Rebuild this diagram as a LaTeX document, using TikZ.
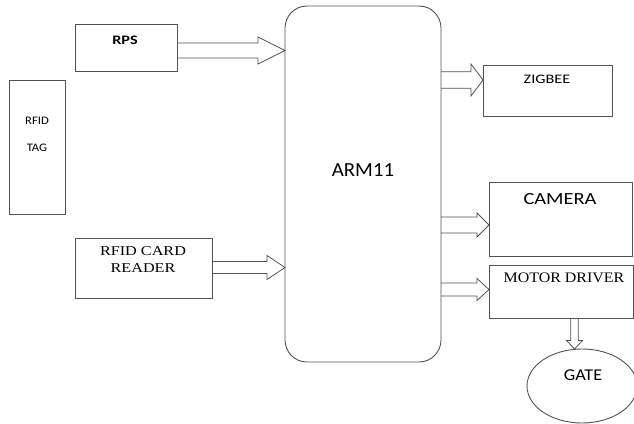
\documentclass[tikz,border=0pt]{standalone}
\usepackage{fontspec}
\usepackage{graphicx}
\setmainfont{Liberation Serif}
\newfontfamily\calfont{Carlito}
\usetikzlibrary{calc,shapes.geometric}
\newcommand\sw[3]{{\fontsize{#1}{#1}\selectfont\scalebox{#2}[1]{#3}}}
\newcommand\harrow[5]{%
  \draw[fat] let \p1=(#1), \p2=(#2) in
    (\x1,\y1+#3) -- (\x2-#5,\y1+#3) -- (\x2-#5,\y1+#4) -- (\x2,\y1)
    -- (\x2-#5,\y1-#4) -- (\x2-#5,\y1-#3) -- (\x1,\y1-#3);}
\newcommand\varrow[5]{%
  \draw[fat] let \p1=(#1), \p2=(#2) in
    (\x1-#3,\y1) -- (\x1-#3,\y2+#5) -- (\x1-#4,\y2+#5) -- (\x1,\y2)
    -- (\x1+#4,\y2+#5) -- (\x1+#3,\y2+#5) -- (\x1+#3,\y1);}
\begin{document}
\begin{tikzpicture}[x=1pt,y=-1pt,
  box/.style={draw=black!68, line width=0.9pt, inner sep=0pt, outer sep=0pt},
  fat/.style={draw=black!68, line width=0.8pt, line join=miter},
  txt/.style={inner sep=0pt, text=black}]
\useasboundingbox (0,0) rectangle (634,423);
% ARM11
\node[box, rounded corners=22pt, minimum width=156pt, minimum height=356pt] (arm) at (363,184) {};
\node[txt] (armt) at (363,170) {\calfont\sw{20}{1.04}{ARM11}};
% RPS
\node[box, minimum width=102pt, minimum height=47pt] (rps) at (126,47.5) {};
\node[txt] (rpst) at (125,40) {\calfont\bfseries\sw{13}{1.25}{RPS}};
% RFID TAG
\node[box, minimum width=56pt, minimum height=134pt] (tag) at (37,147) {};
\node[txt] (tag1) at (37,120.5) {\calfont\sw{11.5}{1.1}{RFID}};
\node[txt] (tag2) at (37,148) {\calfont\sw{11.5}{1.1}{TAG}};
% RFID CARD READER
\node[box, minimum width=137pt, minimum height=60pt] (reader) at (143.5,268) {};
\node[txt] (rd1) at (143,251.5) {\sw{13.5}{1.2}{RFID CARD}};
\node[txt] (rd2) at (143,268.5) {\sw{13.5}{1.2}{READER}};
% ZIGBEE
\node[box, minimum width=129pt, minimum height=51pt] (zig) at (547.5,90.5) {};
\node[txt] (zigt) at (547,79) {\calfont\sw{13}{1.25}{ZIGBEE}};
% CAMERA
\node[box, minimum width=143pt, minimum height=74pt] (cam) at (560.5,219) {};
\node[txt] (camt) at (560,199) {\calfont\sw{17}{1.2}{CAMERA}};
% MOTOR DRIVER
\node[box, minimum width=144pt, minimum height=53pt] (mot) at (561,291.5) {};
\node[txt] (mott) at (564,278) {\sw{14.5}{1.1}{MOTOR DRIVER}};
% GATE
\node[box, ellipse, minimum width=110pt, minimum height=74pt] (gate) at (582,386) {};
\node[txt] (gatet) at (583,375) {\calfont\sw{16.5}{1.1}{GATE}};
% arrows
\harrow{rps.east |- 0,50.5}{arm.west |- 0,50.5}{7.5pt}{13.5pt}{27pt}
\harrow{reader.east |- 0,267.5}{arm.west |- 0,267.5}{6pt}{12pt}{18pt}
\harrow{arm.east |- 0,80}{zig.west |- 0,80}{8.3pt}{16pt}{12pt}
\harrow{arm.east |- 0,225}{cam.west |- 0,225}{8pt}{12pt}{12pt}
\harrow{arm.east |- 0,289.5}{mot.west |- 0,289.5}{6.5pt}{11pt}{12pt}
\varrow{mot.south -| 574.5,0}{574.5,0 |- gate.north}{3.8pt}{8pt}{8.5pt}
\end{tikzpicture}
\end{document}
